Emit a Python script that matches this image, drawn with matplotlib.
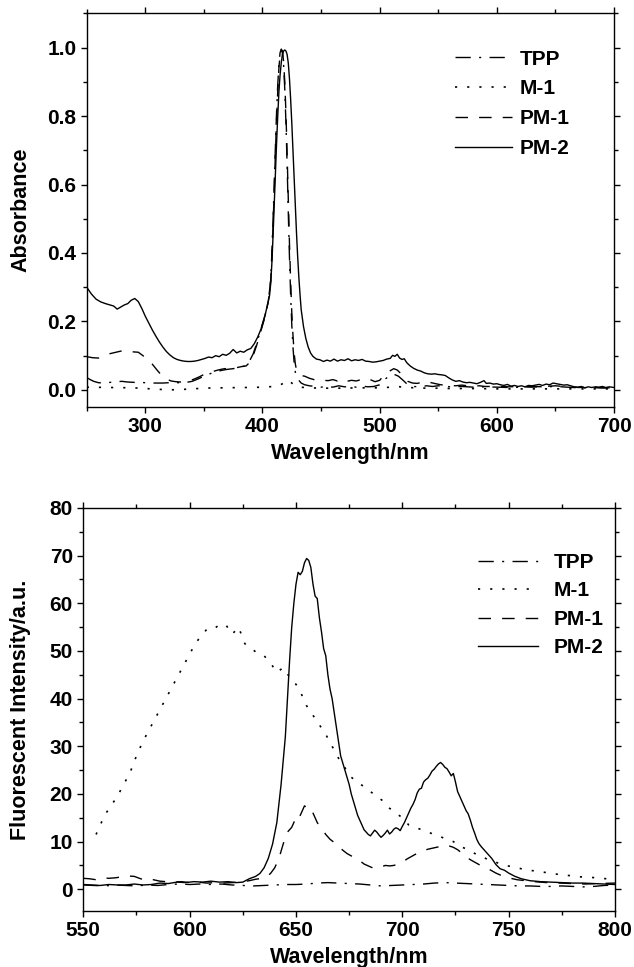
import numpy as np
import matplotlib
matplotlib.use("Agg")
import matplotlib.pyplot as plt
from matplotlib.ticker import MultipleLocator

plt.rcParams["font.family"] = ["Liberation Sans", "DejaVu Sans"]
plt.rcParams["font.weight"] = "bold"
plt.rcParams["font.size"] = 15

labels = ["TPP", "M-1", "PM-1", "PM-2"]

# ---- absorbance (top panel) ----
abs_tpp_nm = [250, 253, 256, 260, 265, 270, 275, 280, 285, 290,
              295, 300, 305, 310, 315, 320, 325, 330, 335, 340,
              345, 350, 355, 360, 365, 370, 375, 380, 385, 389,
              392, 395, 398, 401, 403, 405, 407, 408, 409, 410,
              411, 412, 413, 414, 415, 416, 417, 418, 419, 420,
              421, 422, 423, 424, 425, 426, 427, 428, 430, 433,
              436, 440, 445, 450, 455, 460, 465, 470, 475, 480,
              485, 490, 495, 500, 504, 508, 512, 516, 520, 524,
              528, 535, 540, 545, 550, 555, 560, 570, 580, 590,
              600, 610, 620, 630, 640, 650, 660, 670, 680, 690,
              700]
abs_tpp = [.036, .030, .025, .021, .020, .022, .024, .025, .023, .022,
           .022, .021, .020, .020, .020, .021, .021, .021, .022, .025,
           .032, .040, .047, .052, .057, .060, .062, .066, .070, .085,
           .105, .135, .170, .205, .228, .260, .320, .400, .500, .600,
           .710, .810, .890, .950, .985, .995, .985, .950, .880, .780,
           .660, .520, .390, .280, .190, .125, .080, .052, .032, .020,
           .015, .012, .010, .008, .010, .008, .012, .009, .010, .008,
           .011, .009, .010, .015, .030, .040, .046, .040, .028, .015,
           .010, .009, .012, .010, .012, .011, .009, .010, .008, .009,
           .008, .007, .008, .010, .009, .010, .008, .006, .007, .006,
           .006]

abs_m1_nm = [250, 270, 290, 300, 310, 320, 330, 340, 350, 360,
             370, 380, 390, 400, 410, 415, 418, 420, 422, 425,
             428, 432, 440, 450, 460, 470, 480, 490, 500, 510,
             515, 520, 530, 540, 550, 560, 580, 600, 620, 650,
             680, 700]
abs_m1 = [.008, .007, .006, .004, .002, .000, .001, .003, .005, .006,
          .006, .007, .007, .008, .010, .014, .020, .027, .028, .020,
          .012, .008, .006, .005, .005, .005, .006, .006, .006, .008,
          .010, .008, .006, .005, .005, .004, .004, .003, .003, .003,
          .003, .003]

abs_pm1_nm = [250, 255, 260, 265, 270, 275, 280, 285, 290, 294,
              298, 302, 306, 310, 314, 318, 322, 326, 330, 334,
              338, 342, 346, 350, 354, 358, 362, 366, 370, 374,
              378, 382, 386, 389, 392, 395, 398, 401, 403, 405,
              407, 408, 409, 410, 411, 412, 413, 414, 415, 416,
              417, 418, 419, 420, 421, 422, 423, 424, 425, 426,
              427, 428, 429, 431, 433, 436, 440, 444, 448, 452,
              456, 460, 464, 468, 472, 476, 480, 484, 488, 492,
              496, 500, 503, 506, 509, 512, 515, 518, 521, 524,
              528, 532, 536, 540, 544, 548, 552, 556, 560, 565,
              570, 575, 580, 585, 590, 600, 610, 620, 630, 640,
              650, 660, 670, 680, 690, 700]
abs_pm1 = [.097, .094, .093, .100, .106, .110, .114, .112, .111, .110,
           .100, .088, .075, .058, .042, .032, .026, .024, .023, .024,
           .027, .032, .038, .045, .050, .054, .058, .061, .063, .064,
           .065, .068, .070, .080, .100, .130, .165, .200, .225, .260,
           .320, .390, .480, .580, .690, .790, .870, .940, .980, .995,
           .990, .960, .900, .810, .690, .560, .430, .320, .225, .160,
           .108, .076, .058, .048, .042, .040, .034, .030, .032, .028,
           .027, .030, .026, .032, .025, .028, .026, .030, .034, .030,
           .024, .028, .040, .048, .056, .062, .058, .048, .036, .025,
           .020, .019, .022, .025, .021, .018, .015, .014, .013, .012,
           .014, .012, .011, .012, .010, .010, .009, .010, .008, .010,
           .012, .009, .007, .008, .006, .007]

abs_pm2_nm = [250, 254, 258, 262, 266, 270, 273, 276, 279, 282,
              285, 288, 291, 294, 297, 300, 303, 306, 309, 312,
              315, 318, 321, 324, 327, 330, 333, 336, 339, 342,
              345, 348, 351, 354, 357, 360, 363, 366, 369, 372,
              375, 378, 381, 384, 387, 390, 393, 396, 399, 402,
              404, 406, 407, 408, 409, 410, 411, 412, 413, 414,
              415, 416, 417, 418, 419, 420, 421, 422, 423, 424,
              425, 426, 427, 428, 429, 430, 431, 432, 433, 435,
              437, 439, 441, 443, 446, 449, 452, 455, 458, 461,
              464, 467, 470, 473, 476, 479, 482, 485, 488, 491,
              494, 497, 500, 503, 506, 509, 511, 513, 515, 517,
              519, 521, 523, 526, 529, 532, 535, 538, 541, 544,
              547, 550, 553, 556, 559, 562, 565, 568, 571, 574,
              577, 580, 583, 586, 589, 591, 594, 597, 600, 603,
              606, 609, 612, 615, 618, 621, 624, 627, 630, 633,
              636, 639, 642, 645, 648, 651, 654, 657, 660, 663,
              666, 669, 672, 675, 678, 681, 684, 687, 690, 693,
              696, 700]
abs_pm2 = [.300, .280, .265, .257, .252, .248, .245, .236, .242, .248,
           .252, .262, .267, .258, .238, .215, .195, .175, .157, .140,
           .125, .112, .102, .094, .089, .086, .084, .083, .083, .084,
           .086, .089, .092, .096, .094, .100, .097, .104, .101, .107,
           .118, .108, .113, .110, .117, .121, .135, .155, .180, .215,
           .245, .275, .310, .370, .450, .540, .630, .720, .800, .870,
           .920, .955, .980, .990, .993, .990, .980, .955, .910, .850,
           .780, .700, .620, .540, .460, .390, .330, .280, .235, .185,
           .150, .125, .108, .098, .090, .088, .083, .087, .084, .090,
           .084, .088, .086, .091, .085, .088, .086, .089, .084, .083,
           .081, .082, .084, .086, .090, .092, .101, .098, .104, .093,
           .089, .091, .080, .070, .063, .058, .055, .050, .047, .046,
           .047, .045, .044, .042, .035, .029, .025, .027, .023, .021,
           .022, .020, .018, .022, .027, .019, .020, .017, .018, .015,
           .013, .016, .011, .013, .010, .012, .009, .013, .012, .014,
           .016, .013, .017, .015, .020, .018, .016, .014, .015, .012,
           .009, .008, .010, .006, .009, .007, .009, .008, .010, .007,
           .009, .007]

# ---- fluorescence (bottom panel) ----
fl_tpp_nm = [550, 555, 560, 565, 570, 575, 580, 585, 590, 595,
             600, 605, 610, 615, 620, 625, 630, 635, 640, 645,
             650, 655, 660, 665, 670, 675, 680, 685, 690, 695,
             700, 705, 710, 715, 720, 725, 730, 735, 740, 745,
             750, 755, 760, 765, 770, 775, 780, 785, 790, 795,
             800]
fl_tpp = [0.9, 0.8, 0.7, 0.9, 0.8, 0.7, 0.9, 0.8, 1.0, 1.1,
          1.0, 1.1, 1.0, 1.1, 0.9, 0.8, 0.7, 0.8, 0.9, 1.0,
          1.0, 1.1, 1.3, 1.4, 1.3, 1.2, 1.1, 0.9, 0.7, 0.8,
          0.9, 1.0, 1.1, 1.3, 1.4, 1.3, 1.2, 1.1, 1.0, 0.9,
          0.8, 0.7, 0.7, 0.6, 0.6, 0.7, 0.6, 0.5, 0.6, 0.8,
          0.9]

fl_m1_nm = [556, 558, 560, 563, 566, 569, 572, 575, 578, 581,
            584, 587, 590, 593, 596, 599, 602, 605, 608, 611,
            614, 617, 620, 623, 626, 629, 632, 635, 638, 641,
            644, 647, 650, 652, 655, 658, 661, 664, 667, 670,
            673, 676, 679, 682, 685, 688, 691, 694, 697, 700,
            703, 706, 709, 712, 715, 718, 721, 724, 727, 730,
            733, 736, 739, 742, 745, 748, 751, 754, 757, 760,
            764, 768, 772, 776, 780, 784, 788, 792, 796, 800]
fl_m1 = [11.5, 13.5, 15.5, 17.5, 19.5, 22.0, 24.5, 28.0, 31.0, 33.5,
         36.0, 38.5, 41.0, 43.5, 46.0, 48.5, 51.0, 53.0, 54.5, 54.5,
         55.5, 55.5, 53.5, 55.0, 51.5, 50.5, 49.5, 49.0, 47.5, 45.5,
         46.5, 44.5, 43.0, 41.5, 38.5, 36.5, 34.5, 32.5, 30.0, 27.5,
         25.5, 23.5, 22.5, 21.5, 20.5, 19.5, 18.5, 17.0, 16.0, 15.0,
         13.5, 13.0, 12.5, 12.0, 11.5, 11.0, 10.5, 10.0, 9.0, 8.5,
         7.8, 7.0, 6.5, 6.0, 5.5, 5.0, 4.8, 4.5, 4.2, 4.0,
         3.7, 3.5, 3.2, 3.0, 2.8, 2.6, 2.5, 2.4, 2.2, 2.0]

fl_pm1_nm = [550, 553, 556, 559, 562, 565, 568, 571, 574, 577,
             580, 583, 586, 589, 592, 596, 600, 604, 608, 612,
             616, 620, 624, 628, 631, 634, 636, 638, 640, 642,
             643, 644, 645, 646, 647, 648, 649, 650, 651, 652,
             653, 654, 655, 656, 657, 658, 659, 660, 661, 662,
             664, 666, 668, 670, 672, 674, 676, 678, 680, 682,
             684, 686, 688, 690, 692, 694, 696, 698, 700, 702,
             704, 706, 708, 710, 712, 714, 716, 718, 720, 722,
             724, 726, 728, 730, 732, 734, 736, 738, 740, 742,
             744, 746, 748, 750, 754, 758, 762, 768, 774, 780,
             786, 792, 800]
fl_pm1 = [2.3, 2.2, 2.0, 2.4, 2.3, 2.4, 2.6, 2.8, 2.7, 2.2,
          1.8, 2.0, 1.7, 1.6, 1.5, 1.6, 1.4, 1.5, 1.3, 1.4,
          1.3, 1.4, 1.5, 1.8, 2.1, 2.3, 2.6, 3.3, 4.5, 6.5,
          8.0, 9.5, 11.0, 12.0, 12.5, 13.0, 14.0, 15.2, 14.8, 15.5,
          16.5, 17.5, 17.2, 16.8, 17.0, 16.0, 15.0, 14.0, 13.3, 12.8,
          11.5, 10.5, 9.8, 9.0, 8.2, 7.5, 7.0, 6.5, 6.0, 5.3,
          4.9, 4.5, 4.4, 4.7, 5.0, 4.9, 5.0, 5.3, 5.6, 6.3,
          6.8, 7.3, 7.8, 8.1, 8.4, 8.6, 8.8, 9.0, 9.3, 9.1,
          8.8, 8.3, 7.6, 6.8, 6.2, 5.7, 5.2, 4.8, 4.4, 3.9,
          3.4, 3.0, 2.7, 2.4, 2.0, 1.8, 1.6, 1.4, 1.3, 1.2,
          1.1, 1.2, 1.3]

fl_pm2_nm = [550, 554, 558, 562, 566, 570, 574, 578, 582, 586,
             590, 594, 598, 602, 606, 610, 614, 618, 622, 625,
             628, 631, 633, 635, 637, 639, 641, 643, 645, 646,
             647, 648, 649, 650, 651, 652, 653, 654, 655, 656,
             657, 658, 659, 660, 661, 662, 663, 664, 665, 666,
             667, 668, 669, 670, 671, 672, 673, 674, 675, 676,
             677, 678, 679, 680, 681, 682, 683, 684, 685, 686,
             687, 688, 689, 690, 691, 692, 693, 694, 695, 696,
             697, 698, 699, 700, 701, 702, 703, 704, 705, 706,
             707, 708, 709, 710, 711, 712, 713, 714, 715, 716,
             717, 718, 719, 720, 721, 722, 723, 724, 725, 726,
             727, 728, 729, 730, 731, 732, 733, 734, 735, 736,
             737, 738, 740, 742, 744, 746, 748, 750, 753, 756,
             760, 765, 770, 775, 780, 785, 790, 795, 800]
fl_pm2 = [1.0, 0.9, 0.8, 1.0, 0.9, 0.9, 1.1, 0.9, 1.0, 1.3,
          1.2, 1.5, 1.4, 1.6, 1.5, 1.7, 1.5, 1.6, 1.4, 1.5,
          2.2, 2.7, 3.3, 4.5, 6.5, 9.5, 14.0, 22.0, 32.0, 40.0,
          48.0, 55.0, 60.0, 64.0, 66.5, 66.0, 66.7, 68.5, 69.4, 69.0,
          67.5, 64.0, 61.5, 61.0, 57.0, 54.0, 50.5, 49.0, 45.0, 42.0,
          40.0, 37.0, 34.0, 31.0, 28.0, 26.5, 25.0, 23.5, 22.0, 20.0,
          18.5, 17.0, 15.5, 14.5, 13.5, 12.5, 12.0, 11.5, 11.2, 11.8,
          12.4, 12.0, 11.4, 10.9, 11.3, 11.8, 12.4, 11.6, 12.0, 12.6,
          12.9, 12.7, 12.3, 13.2, 14.0, 15.0, 16.0, 17.0, 17.8, 18.8,
          20.2, 21.0, 21.2, 22.5, 23.0, 23.3, 24.0, 24.8, 25.2, 25.8,
          26.3, 26.6, 26.2, 25.6, 25.3, 24.6, 23.8, 24.3, 22.5, 20.5,
          19.5, 18.5, 17.5, 16.5, 15.8, 14.5, 13.0, 11.8, 10.5, 9.6,
          9.0, 8.5, 7.5, 6.5, 5.2, 4.3, 4.0, 3.4, 2.7, 2.2,
          1.8, 1.6, 1.5, 1.4, 1.3, 1.3, 1.2, 1.1, 1.0]

styles = {
    "TPP": (0, (11, 6, 1.5, 6)),
    "M-1": (0, (1.3, 6)),
    "PM-1": (0, (9, 8)),
    "PM-2": "-",
}


def style_axes(ax):
    for s in ax.spines.values():
        s.set_linewidth(1.0)
    ax.tick_params(which="both", direction="out", top=True, right=True,
                   labeltop=False, labelright=False, width=1.0, labelsize=15)
    ax.tick_params(which="major", length=4)
    ax.tick_params(which="minor", length=3)
    for t in ax.get_xticklabels() + ax.get_yticklabels():
        t.set_fontweight("bold")


fig = plt.figure(figsize=(6.34, 9.67), dpi=100)

# top panel
ax1 = fig.add_axes([0.1368, 0.5791, 0.8317, 0.4071])
ax1.plot(abs_tpp_nm, abs_tpp, color="black", lw=1.0, ls=styles["TPP"], label="TPP")
ax1.plot(abs_m1_nm, abs_m1, color="black", lw=1.2, ls=styles["M-1"], label="M-1")
ax1.plot(abs_pm1_nm, abs_pm1, color="black", lw=1.0, ls=styles["PM-1"], label="PM-1")
ax1.plot(abs_pm2_nm, abs_pm2, color="black", lw=1.0, ls=styles["PM-2"], label="PM-2")
ax1.set_xlim(250, 700)
ax1.set_ylim(-0.05, 1.1)
ax1.xaxis.set_major_locator(MultipleLocator(100))
ax1.xaxis.set_minor_locator(MultipleLocator(50))
ax1.yaxis.set_major_locator(MultipleLocator(0.2))
ax1.yaxis.set_minor_locator(MultipleLocator(0.1))
ax1.set_xticks([300, 400, 500, 600, 700])
ax1.set_xlabel("Wavelength/nm", fontsize=15.5, fontweight="bold", labelpad=5)
ax1.set_ylabel("Absorbance", fontsize=15.5, fontweight="bold", labelpad=11.5)
style_axes(ax1)
ax1.legend(loc="upper left", bbox_to_anchor=(0.698, 0.908), frameon=False,
           handlelength=2.74, handletextpad=0.38, labelspacing=0.52,
           borderaxespad=0, borderpad=0, prop={"weight": "bold", "size": 15})

# bottom panel
ax2 = fig.add_axes([0.1314, 0.0582, 0.8386, 0.4165])
ax2.plot(fl_tpp_nm, fl_tpp, color="black", lw=1.0, ls=styles["TPP"], label="TPP")
ax2.plot(fl_m1_nm, fl_m1, color="black", lw=1.2, ls=styles["M-1"], label="M-1")
ax2.plot(fl_pm1_nm, fl_pm1, color="black", lw=1.0, ls=styles["PM-1"], label="PM-1")
ax2.plot(fl_pm2_nm, fl_pm2, color="black", lw=1.0, ls=styles["PM-2"], label="PM-2")
ax2.set_xlim(550, 800)
ax2.set_ylim(-4.5, 80)
ax2.xaxis.set_major_locator(MultipleLocator(50))
ax2.xaxis.set_minor_locator(MultipleLocator(25))
ax2.yaxis.set_major_locator(MultipleLocator(10))
ax2.yaxis.set_minor_locator(MultipleLocator(5))
ax2.set_xlabel("Wavelength/nm", fontsize=15.5, fontweight="bold", labelpad=5)
ax2.set_ylabel("Fluorescent Intensity/a.u.", fontsize=15.5, fontweight="bold", labelpad=13.5)
style_axes(ax2)
ax2.legend(loc="upper left", bbox_to_anchor=(0.742, 0.888), frameon=False,
           handlelength=2.88, handletextpad=0.75, labelspacing=0.45,
           borderaxespad=0, borderpad=0, prop={"weight": "bold", "size": 15})

fig.savefig("out.png", dpi=100)
